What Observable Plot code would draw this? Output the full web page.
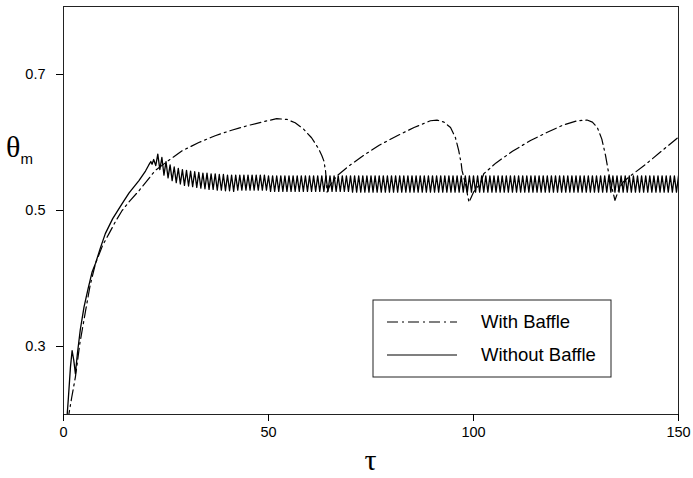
<!DOCTYPE html>
<html>
<head>
<meta charset="utf-8">
<script src="https://cdn.jsdelivr.net/npm/d3@7"></script>
<script src="https://cdn.jsdelivr.net/npm/@observablehq/plot@0.6"></script>
<style>
  html, body { margin: 0; padding: 0; background: #fff; }
  #chart { position: relative; width: 693px; height: 478px; }
</style>
</head>
<body>
<div id="chart"></div>
<script>
// ---- tick values ----
const tauTicks = [0, 50, 100, 150];
const thetaTicks = [0.3, 0.5, 0.7];
const seriesNames = ["With Baffle", "Without Baffle"];

// ---- With Baffle (dash-dot) ----
const withTau = [1.0, 1.3, 2.0, 2.9, 4.0, 5.4, 6.5, 7.8, 9.5, 11.1, 12.7, 14.3, 16.3, 18.4, 20.4, 22.4,
  25.5, 29, 33, 37, 41, 45, 49, 52, 54.5, 56.5, 58.5, 60.5, 62.2, 63.0, 63.5, 63.9, 64.1, 64.3,
  65.0, 66.7, 69.5, 73.2, 77, 81.4, 85.5, 89.5, 91.1, 92.8, 94.4, 95.6, 96.4, 97.0, 97.2, 98.0, 98.9,
  100.0, 101.7, 102.5, 105.5, 109.5, 113.9, 118, 122, 125.3, 127.7, 129, 130.2, 131.3, 132.2, 133.0, 133.7, 134.5,
  135.5, 136.5, 138.3, 142, 146, 150];
const withTheta = [0.19, 0.2, 0.225, 0.255, 0.305, 0.353, 0.39, 0.422, 0.448, 0.466, 0.484, 0.5, 0.515, 0.529, 0.544, 0.559,
  0.573, 0.588, 0.600, 0.610, 0.618, 0.625, 0.631, 0.635, 0.634, 0.629, 0.620, 0.607, 0.591, 0.581, 0.573, 0.559, 0.545, 0.527,
  0.537, 0.551, 0.565, 0.581, 0.596, 0.610, 0.622, 0.632, 0.633, 0.630, 0.622, 0.607, 0.588, 0.569, 0.559, 0.540, 0.512,
  0.527, 0.540, 0.554, 0.570, 0.587, 0.603, 0.615, 0.626, 0.632, 0.633, 0.630, 0.622, 0.605, 0.581, 0.554, 0.535, 0.515,
  0.532, 0.542, 0.551, 0.568, 0.588, 0.608];

// ---- Without Baffle (solid), rise phase ----
const withoutTau = [0.6, 0.9, 1.2, 1.7, 2.1, 2.5, 2.9, 3.4, 4.1, 5.0, 6.0, 7.0, 7.8, 9.0, 10.2, 12.0, 14.3, 16.0, 18.4, 20.0, 20.8, 21.3, 21.6];
const withoutTheta = [0.19, 0.2, 0.225, 0.27, 0.294, 0.28, 0.26, 0.29, 0.325, 0.358, 0.385, 0.41, 0.422, 0.445, 0.466, 0.488, 0.51, 0.526, 0.544, 0.558, 0.567, 0.572, 0.568];

// ---- Without Baffle (solid), oscillation phase: samples every half period from tau = 22 ----
const oscStartTau = 22;
const oscHalfPeriod = 0.5;
const oscTheta = [
  0.575,0.566,0.583,0.560,0.578,0.552,0.572,0.548,0.567,0.544,
  0.564,0.541,0.562,0.539,0.560,0.537,0.559,0.536,0.558,0.535,
  0.557,0.534,0.556,0.533,0.555,0.532,0.555,0.531,0.554,0.531,
  0.554,0.530,0.553,0.530,0.553,0.529,0.552,0.529,0.552,0.528,
  0.552,0.530,0.552,0.530,0.552,0.530,0.552,0.530,0.552,0.530,0.552,0.530,0.552,0.530,0.552,0.530,
  0.551,0.528,0.551,0.528,0.551,0.528,0.551,0.528,0.551,0.528,0.551,0.528,0.551,0.528,0.551,0.528,0.551,0.528,0.551,0.528,
  0.551,0.528,0.551,0.528,0.551,0.528,0.551,0.528,0.551,0.528,0.551,0.528,0.551,0.528,0.551,0.528,0.551,0.528,0.551,0.528,
  0.551,0.527,0.551,0.527,0.551,0.527,0.551,0.527,0.551,0.527,0.551,0.527,0.551,0.527,0.551,0.527,0.551,0.527,0.551,0.527,
  0.551,0.527,0.551,0.527,0.551,0.527,0.551,0.527,0.551,0.527,0.551,0.527,0.551,0.527,0.551,0.527,0.551,0.527,0.551,0.527,
  0.551,0.527,0.551,0.527,0.551,0.527,0.551,0.527,0.551,0.527,0.551,0.527,0.551,0.527,0.551,0.527,0.551,0.527,0.551,0.527,
  0.551,0.527,0.551,0.527,0.551,0.527,0.551,0.527,0.551,0.527,0.551,0.527,0.551,0.527,0.551,0.527,0.551,0.527,0.551,0.527,
  0.551,0.527,0.551,0.527,0.551,0.527,0.551,0.527,0.551,0.527,0.551,0.527,0.551,0.527,0.551,0.527,0.551,0.527,0.551,0.527,
  0.551,0.527,0.551,0.527,0.551,0.527,0.551,0.527,0.551,0.527,0.551,0.527,0.551,0.527,0.551,0.527,0.551,0.527,0.551,0.527,
  0.551,0.527,0.551,0.527,0.551,0.527,0.551,0.527,0.551,0.527,0.551,0.527,0.551,0.527,0.551,0.527,0.551,0.527,0.551,0.527,
  0.551,0.527,0.551,0.527,0.551,0.527,0.551,0.527,0.551,0.527,0.551,0.527,0.551,0.527,0.551,0.527,0.551,0.527,0.551,0.527,
  0.551
];

// ---- build tables ----
const withData = withTau.map((t, i) => ({tau: t, theta: withTheta[i]}));
const withoutData = withoutTau.map((t, i) => ({tau: t, theta: withoutTheta[i]}))
  .concat(oscTheta.map((v, i) => ({tau: oscStartTau + i * oscHalfPeriod, theta: v})));

const W = 693, H = 478;
const dashDot = "11,4,2,4";

const plot = Plot.plot({
  width: W, height: H,
  marginLeft: 63, marginRight: 15, marginTop: 6, marginBottom: 64,
  style: {fontFamily: "'Liberation Sans', Arial, sans-serif", fontSize: "14.5px", color: "#000", background: "#fff"},
  x: {domain: [0, 150]},
  y: {domain: [0.2, 0.8]},
  marks: [
    Plot.line(withData, {x: "tau", y: "theta", stroke: "#000", strokeWidth: 1.2, strokeDasharray: dashDot, clip: true}),
    Plot.line(withoutData, {x: "tau", y: "theta", stroke: "#000", strokeWidth: 1.3, clip: true}),
    Plot.frame({stroke: "#222", strokeWidth: 1}),
    Plot.axisX({ticks: tauTicks, tickSize: 7, tickPadding: 5, label: null, tickFormat: d3.format("d")}),
    Plot.axisY({ticks: thetaTicks, tickSize: 7, tickPadding: 11, label: null, tickFormat: d3.format(".1f")})
  ]
});
document.getElementById("chart").appendChild(plot);

// ---- axis titles and legend ----
const svg = d3.select(plot);
const x = plot.scale("x");
const [x0, x1] = x.range;

const yt1 = svg.append("text").attr("x", 6).attr("y", 157).attr("text-anchor", "start")
  .style("font-family", "'Liberation Serif', 'Times New Roman', serif").style("font-size", "30px");
yt1.append("tspan").text("θ");
yt1.append("tspan").attr("dy", 7).style("font-family", "'Liberation Sans', Arial, sans-serif").style("font-size", "15px").text("m");

svg.append("text").attr("x", (x0 + x1) / 2).attr("y", 470).attr("text-anchor", "middle")
  .style("font-family", "'Liberation Serif', 'Times New Roman', serif").style("font-size", "30px").text("τ");

const lg = svg.append("g").attr("transform", "translate(373,300)");
lg.append("rect").attr("width", 238).attr("height", 77).attr("fill", "#fff").attr("stroke", "#222").attr("stroke-width", 1);
const rows = [{name: seriesNames[0], dash: dashDot, dy: 22}, {name: seriesNames[1], dash: null, dy: 55}];
rows.forEach(r => {
  lg.append("line").attr("x1", 14).attr("x2", 84).attr("y1", r.dy).attr("y2", r.dy)
    .attr("stroke", "#000").attr("stroke-width", 1.1).attr("stroke-dasharray", r.dash);
  lg.append("text").attr("x", 108).attr("y", r.dy + 6).attr("text-anchor", "start")
    .style("font-family", "'Liberation Sans', Arial, sans-serif").style("font-size", "18.5px").text(r.name);
});
</script>
</body>
</html>
